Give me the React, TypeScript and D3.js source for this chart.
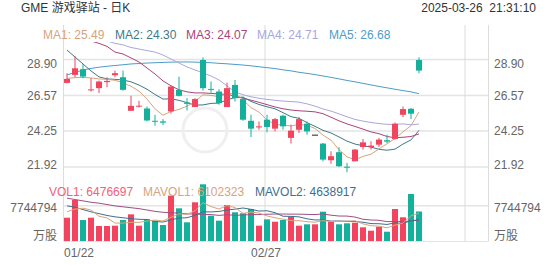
import React from 'react';
import * as d3 from 'd3';

const dates = ['01/22','01/23','01/24','01/27','01/28','01/29','01/30','01/31','02/03','02/04','02/05','02/06','02/07','02/10','02/11','02/12','02/13','02/14','02/18','02/19','02/20','02/21','02/24','02/25','02/26','02/27','02/28','03/03','03/04','03/05','03/06','03/07','03/10','03/11','03/12','03/13','03/14','03/17','03/18','03/19','03/20','03/21','03/24','03/25','03/26'];
const opens = [27.38,27.90,28.27,26.90,27.04,27.43,27.88,27.75,25.57,25.86,25.72,24.92,24.88,25.53,26.93,26.11,25.81,28.87,26.99,26.82,25.81,27.25,26.33,24.92,24.49,24.99,24.41,25.25,23.81,24.34,24.73,24.02,23.44,22.36,22.88,21.94,22.29,23.22,23.22,23.37,23.66,23.74,25.31,25.70,28.87];
const highs = [28.01,29.13,28.61,27.68,27.53,27.75,28.18,28.18,26.54,26.22,25.85,25.31,25.03,27.19,27.79,26.39,26.39,29.04,27.47,26.97,27.40,27.57,26.50,25.31,24.88,25.31,25.10,25.31,24.67,25.16,24.88,24.02,23.48,22.94,23.20,22.19,23.09,23.74,23.59,23.81,24.02,24.81,25.85,25.75,29.04];
const lows = [27.35,27.75,27.68,26.82,26.72,27.10,27.75,26.88,25.57,25.78,24.88,24.60,24.65,25.38,26.50,25.59,25.81,26.88,26.75,25.96,25.81,26.17,24.92,23.87,24.34,24.17,24.23,24.34,23.44,24.13,24.02,24.02,22.29,22.13,21.91,21.58,22.29,23.05,23.05,23.22,23.48,23.70,25.16,25.03,28.01];
const closes = [27.64,28.33,27.79,26.96,27.47,27.51,28.01,26.93,25.89,25.90,24.94,24.86,24.80,27.14,26.54,26.02,26.33,27.04,26.93,26.07,27.04,26.39,24.99,24.41,24.56,24.52,25.03,24.56,24.28,25.03,24.23,24.02,22.40,22.62,21.97,21.90,23.05,23.52,23.31,23.70,23.57,24.73,25.68,25.38,28.18];
const volumes = [5110000,9000000,4600000,5110000,3290000,3290000,3360000,4600000,5850000,3360000,4750000,4460000,3510000,9940000,7170000,4100000,8490000,12440000,5550000,4460000,7900000,6300000,6080000,7020000,3360000,4750000,4230000,4610000,5330000,3360000,3660000,3660000,6430000,4230000,3660000,3880000,4020000,3000000,2260000,3140000,2040000,7020000,5200000,10310000,6476697];

const ma1 = [27.68,27.72,27.74,27.70,27.64,27.61,27.55,27.38,27.16,26.85,26.33,25.70,25.28,25.53,25.66,25.87,26.17,26.61,26.57,26.48,26.68,26.69,26.28,25.78,25.48,24.97,24.70,24.62,24.59,24.68,24.63,24.42,23.99,23.66,23.05,22.58,22.39,22.61,22.75,23.10,23.43,23.77,24.20,24.61,25.49];
const ma2 = [29.51,29.06,28.61,28.16,27.77,27.64,27.61,27.57,27.45,27.24,26.97,26.63,26.33,26.35,26.25,26.10,25.94,25.95,26.05,26.07,26.28,26.43,26.45,26.18,25.98,25.83,25.70,25.45,25.19,25.08,24.80,24.56,24.30,24.13,23.87,23.60,23.41,23.30,23.21,23.07,23.01,23.08,23.41,23.68,24.30];
const ma3 = [30.5,30.4,30.25,30.1,29.95,29.75,29.38,29.26,29.00,28.74,28.35,27.96,27.51,27.19,26.93,26.80,26.73,26.73,26.70,26.66,26.63,26.53,26.39,26.26,26.12,25.97,25.82,25.70,25.62,25.57,25.54,25.50,25.38,25.15,24.92,24.72,24.55,24.38,24.20,24.08,23.90,23.82,23.85,23.90,24.07];
const ma4 = [30.6,30.5,30.4,30.3,30.2,30.1,29.95,29.85,29.68,29.58,29.48,29.38,29.19,28.93,28.67,28.42,28.22,28.03,27.83,27.57,27.19,26.80,26.61,26.48,26.38,26.31,26.25,26.20,26.17,26.13,26.02,25.87,25.69,25.55,25.37,25.18,25.01,24.90,24.81,24.74,24.69,24.69,24.72,24.66,24.71];
const ma5 = [27.90,28.06,28.22,28.32,28.40,28.46,28.51,28.56,28.61,28.64,28.67,28.69,28.71,28.73,28.74,28.74,28.73,28.71,28.69,28.65,28.62,28.58,28.54,28.49,28.43,28.37,28.31,28.23,28.16,28.07,28.00,27.92,27.83,27.74,27.64,27.54,27.45,27.35,27.25,27.15,27.06,26.97,26.88,26.80,26.68];

const mavol1 = [6430000,7000000,7200000,6800000,5420000,5060000,3930000,3930000,4080000,4090000,4380000,4600000,4390000,5200000,5970000,5840000,6640000,8430000,7550000,7010000,7770000,7330000,6060000,6350000,6130000,5500000,5090000,4790000,4460000,4460000,4240000,4120000,4490000,4270000,4330000,4370000,4440000,3760000,3360000,3260000,2890000,3490000,3930000,5540000,6102323];
const mavol2 = [7700000,7400000,6900000,6400000,6000000,5600000,5300000,5100000,4900000,4760000,4720000,4270000,4160000,4640000,5030000,5110000,5620000,6410000,6380000,6490000,6800000,6990000,7240000,6950000,6570000,6640000,6210000,5430000,5400000,5290000,4870000,4610000,4640000,4360000,4390000,4310000,4280000,4120000,3820000,3790000,3630000,3970000,3850000,4450000,4638917];
const mavol3 = [9400000,9100000,8800000,8500000,8300000,8000000,7700000,7500000,7300000,7100000,6800000,6500000,6300000,6200000,6100000,5950000,5900000,5850000,5800000,5620000,5760000,5630000,5700000,5800000,5800000,5870000,5920000,5920000,5890000,5890000,5840000,5800000,5940000,5660000,5480000,5470000,5250000,4770000,4610000,4540000,4250000,4290000,4240000,4410000,4560000];

const priceTicks = [28.90, 26.57, 24.25, 21.92];
const volTick = 7744794;
const dateTickIndex = [0, 25];
const gridIndex = [25, 50];

const maLabels = ['MA1', 'MA2', 'MA3', 'MA4', 'MA5'];
const maValues = ['25.49', '24.30', '24.07', '24.71', '26.68'];
const volLabels = ['VOL1', 'MAVOL1', 'MAVOL2'];
const volValues = ['6476697', '6102323', '4638917'];

const title = 'GME 游戏驿站 - 日K';
const timestamp = '2025-03-26  21:31:10';
const volUnit = '万股';

const RED = '#f2445e';
const GREEN = '#14b09b';
const maColors = ['#d6a47c', '#3c7a88', '#a8437c', '#aaa6de', '#4e9cc6'];
const maLegendX = [43, 115, 186, 257, 329];
const volColors = ['#f0627a', '#d6a47c', '#3e6f8f', '#a04e84'];
const volLegendX = [49, 143, 255];

const FONT = '"Liberation Sans", Arial, "Noto Sans CJK SC", sans-serif';

export default function App() {
  const W = 552, H = 265;
  const left = 64, right = 488;
  const x = d3.scaleLinear().domain([0, 52]).range([67, 483]);
  const y = d3.scaleLinear().domain([21.92, 28.90]).range([167, 59.5]);
  const yv = d3.scaleLinear().domain([0, volTick]).range([241, 205.7]);
  const idx = d3.range(closes.length);

  const priceLine = (arr: number[]) =>
    d3.line<number>().x((_, i) => x(i)).y((d) => y(d))(arr) || '';
  const volLine = (arr: number[]) =>
    d3.line<number>().x((_, i) => x(i)).y((d) => yv(d))(arr) || '';

  const bw = 6;
  const labelY = (v: number) => Math.min(Math.max(y(v), 63.5), 165) + 4.2;

  return (
    <div style={{ position: 'fixed', left: 0, top: 0, width: W, height: H, background: '#fff' }}>
      <svg width={W} height={H} style={{ display: 'block', fontFamily: FONT }}>
        <defs>
          <clipPath id="pricePane">
            <rect x={left} y={42} width={right - left} height={136} />
          </clipPath>
        </defs>
        <rect x={0} y={0} width={W} height={H} fill="#fff" />

        {/* header */}
        <text x={21} y={12} fontSize={12} fill="#333">{title}</text>
        <text x={536} y={12} fontSize={12} fill="#333" textAnchor="end" style={{ whiteSpace: 'pre' }}>{timestamp}</text>

        {/* grid */}
        {priceTicks.map((t) => (
          <line key={'g' + t} x1={left} x2={right} y1={y(t)} y2={y(t)} stroke="#e4e4e4" strokeWidth={1.5} />
        ))}
        <line x1={left} x2={right} y1={yv(volTick)} y2={yv(volTick)} stroke="#e4e4e4" strokeWidth={1.5} />
        <line x1={left} x2={right} y1={241.5} y2={241.5} stroke="#e4e4e4" strokeWidth={1} />
        <line x1={left - 0.5} x2={left - 0.5} y1={25} y2={241.5} stroke="#dcdcdc" strokeWidth={1} />
        <line x1={right + 0.5} x2={right + 0.5} y1={25} y2={241.5} stroke="#dcdcdc" strokeWidth={1} />
        {gridIndex.map((g) => (
          <line key={'v' + g} x1={x(g) - 2} x2={x(g) - 2} y1={25} y2={241.5} stroke="#dcdcdc" strokeWidth={1} />
        ))}

        {/* watermark */}
        <circle cx={205} cy={130} r={22} fill="none" stroke="#efefef" strokeWidth={3} />

        {/* MA lines */}
        <g clipPath="url(#pricePane)" fill="none" strokeWidth={1}>
          {[ma5, ma4, ma3, ma2, ma1].map((arr, k) => (
            <path key={'ma' + k} d={priceLine(arr)} stroke={maColors[4 - k]} />
          ))}
        </g>

        {/* candles */}
        {idx.map((i) => {
          const o = opens[i], c = closes[i];
          const col = c > o ? RED : c < o ? GREEN : '#222';
          const top = y(Math.max(o, c));
          const bot = y(Math.min(o, c));
          const cx = x(i);
          return (
            <g key={'c' + i}>
              <line x1={cx} x2={cx} y1={y(highs[i])} y2={y(lows[i])} stroke={col} strokeWidth={1} />
              <rect x={cx - bw / 2} y={top} width={bw} height={Math.max(1, bot - top)} fill={col} />
            </g>
          );
        })}

        {/* volume bars */}
        {idx.map((i) => {
          const col = closes[i] >= opens[i] ? RED : GREEN;
          const t = yv(volumes[i]);
          return <rect key={'v' + i} x={x(i) - bw / 2} y={t} width={bw} height={241 - t} fill={col} />;
        })}
        <g fill="none" strokeWidth={1}>
          <path d={volLine(mavol3)} stroke={volColors[3]} />
          <path d={volLine(mavol2)} stroke={volColors[2]} />
          <path d={volLine(mavol1)} stroke={volColors[1]} />
        </g>

        {/* MA legend */}
        {maLabels.map((l, k) => (
          <text key={'ml' + k} x={maLegendX[k]} y={38.5} fontSize={12} fill={maColors[k]}>{`${l}: ${maValues[k]}`}</text>
        ))}
        {volLabels.map((l, k) => (
          <text key={'vl' + k} x={volLegendX[k]} y={196} fontSize={12} fill={volColors[k]}>{`${l}: ${volValues[k]}`}</text>
        ))}

        {/* price axis labels */}
        {priceTicks.map((t) => (
          <g key={'pl' + t}>
            <text x={57} y={labelY(t)} fontSize={12} fill="#666" textAnchor="end">{t.toFixed(2)}</text>
            <text x={494} y={labelY(t)} fontSize={12} fill="#666">{t.toFixed(2)}</text>
          </g>
        ))}
        <text x={57} y={212.3} fontSize={12} fill="#666" textAnchor="end">{String(volTick)}</text>
        <text x={494} y={212.3} fontSize={12} fill="#666">{String(volTick)}</text>
        <text x={57} y={239.5} fontSize={12} fill="#666" textAnchor="end">{volUnit}</text>
        <text x={494} y={239.5} fontSize={12} fill="#666">{volUnit}</text>

        {/* date labels */}
        {dateTickIndex.map((d) => {
          const cx = x(d) - 1;
          const first = d === 0;
          return (
            <text key={'d' + d} x={first ? left : cx} y={256.5} fontSize={12} fill="#666" textAnchor={first ? 'start' : 'middle'}>
              {dates[d]}
            </text>
          );
        })}
      </svg>
    </div>
  );
}
